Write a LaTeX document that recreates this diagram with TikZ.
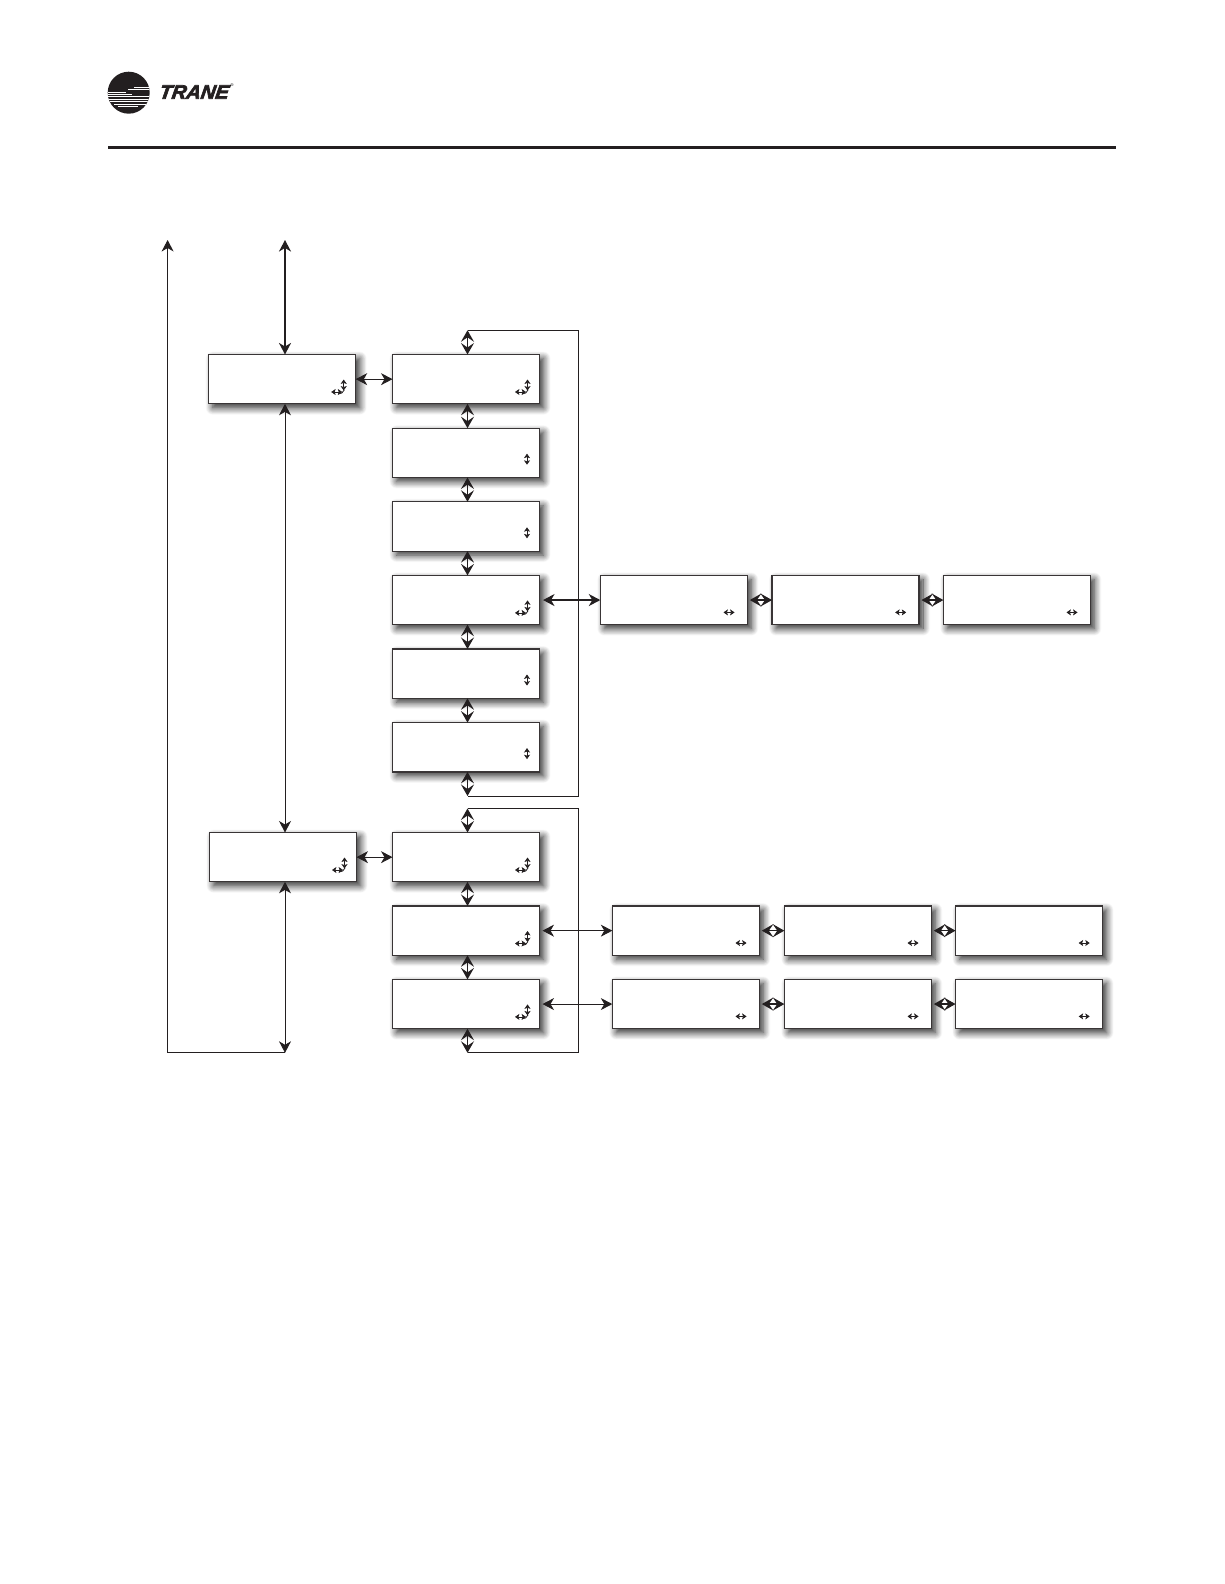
\documentclass[tikz,border=0pt]{standalone}
\usepackage{fontspec}
\setmainfont{Liberation Sans}
\newfontfamily\brandfont[BoldItalicFeatures={FakeBold=3.5,FakeStretch=1.03}]{Liberation Sans}
\usetikzlibrary{arrows.meta,shadows.blur}
\definecolor{tranedark}{HTML}{231F20}

\begin{document}
\begin{tikzpicture}[
    x=1pt, y=-1pt,
    menubox/.style={draw=tranedark!90, line width=1.2pt, fill=white, minimum width=147pt,
      minimum height=49.3pt, anchor=north west, inner sep=0pt, outer sep=0pt,
      blur shadow={shadow xshift=4pt, shadow yshift=-4pt, shadow blur steps=12,
        shadow blur radius=7pt, shadow opacity=85}},
    link/.style={{Stealth[length=11.5pt,width=12pt,inset=3.5pt]}-{Stealth[length=11.5pt,width=12pt,inset=3.5pt]},
      draw=tranedark, line width=0.9pt},
    heavylink/.style={link, line width=1.7pt},
    stacklink/.style={{Stealth[length=11.5pt,width=13pt,inset=4.5pt]}-{Stealth[length=11.5pt,width=13pt,inset=4.5pt]},
      draw=tranedark, line width=1.3pt},
    route/.style={draw=tranedark, line width=1pt},
    navtip/.style={{Stealth[length=4.4pt,width=6pt,inset=1pt]}-{Stealth[length=4.4pt,width=6pt,inset=1pt]},
      draw=tranedark, line width=0.6pt},
    navud/.pic={\draw[navtip] (0,-5.5) -- (0,5.5);},
    navlr/.pic={\draw[navtip] (-5.5,0) -- (5.5,0);},
    navboth/.pic={\draw[navtip] (0,-6) -- (0,5);
      \draw[navtip] (-12.5,6.5) -- (-1.5,6.5);
      \draw[draw=tranedark, line width=0.8pt] (-5.5,8.5) to[bend right=35] (0.5,4.5);}
  ]
    \useasboundingbox (0,0) rectangle (1224,1584);

    % header
    \fill[tranedark] (128.7,92.7) circle (21);
    \begin{scope}
      \clip (128.7,92.7) circle (21);
      \foreach \ypos/\xstart/\xend/\wd in {87/134/150/.6, 89.5/128/150/.7, 92/108/126/.6, 94/107/132/.7,
          96.5/107/150/.9, 99/107/150/.6, 101.5/110/150/.8, 104/114/146/.6, 106.5/118/138/.5}
        \draw[white, line width=\wd pt] (\xstart,\ypos) -- (\xend,\ypos);
    \end{scope}
    \node[font=\brandfont\bfseries\itshape\fontsize{19.5}{20}\selectfont, text=tranedark, inner sep=0pt,
      xslant=.15, transform shape] (brand) at (194.5,92) {TRANE};
    \node[font=\fontsize{4}{4}\selectfont, inner sep=0pt, anchor=west] (mark) at (brand.north east) {®};
    \coordinate (rulea) at (108,147.3);
    \coordinate (ruleb) at (1116,147.3);
    \draw[tranedark, line width=2.8pt] (rulea) -- (ruleb);

    % upper menu
    \node[menubox] (setupA) at (208.7,354.5) {};
    \node[menubox] (itemA) at (392.5,354.5) {};
    \node[menubox] (itemB) at (392.5,428.2) {};
    \node[menubox] (itemC) at (392.5,501.8) {};
    \node[menubox] (itemD) at (392.5,575.4) {};
    \node[menubox] (itemE) at (392.5,649) {};
    \node[menubox] (itemF) at (392.5,722.6) {};
    \node[menubox] (subA) at (600.3,575.4) {};
    \node[menubox] (subB) at (772,575.4) {};
    \node[menubox] (subC) at (943.3,575.4) {};

    % lower menu
    \node[menubox] (setupB) at (209.5,832.5) {};
    \node[menubox] (itemG) at (392.5,832.5) {};
    \node[menubox] (itemH) at (392.5,906) {};
    \node[menubox] (itemJ) at (392.5,979.4) {};
    \node[menubox] (subD) at (612.3,906) {};
    \node[menubox] (subE) at (784.3,906) {};
    \node[menubox] (subF) at (955.5,906) {};
    \node[menubox] (subG) at (612.3,979.4) {};
    \node[menubox] (subH) at (784.3,979.4) {};
    \node[menubox] (subJ) at (955.5,979.4) {};

    % free ends
    \coordinate (entry) at (285,240);
    \coordinate (exit) at (167.6,240);
    \coordinate (floor) at (285,1052.8);
    \coordinate (loopAtop) at (467.5,330.3);
    \coordinate (loopAbot) at (467.5,796);
    \coordinate (loopBtop) at (467.5,808.5);
    \coordinate (loopBbot) at (467.5,1052.8);
    \coordinate (loopAside) at (578,330.3);
    \coordinate (loopBside) at (578,808.5);

    % left column
    \draw[heavylink] (entry) -- (entry |- setupA.north);
    \draw[link] (entry |- setupA.south) -- (entry |- setupB.north);
    \draw[link] (entry |- setupB.south) -- (floor);
    \draw[route, -{Stealth[length=11.5pt,width=12pt,inset=3.5pt]}] (floor) -| (exit);
    \draw[link] (setupA.east) -- (itemA.west);
    \draw[link] (setupB.east) -- (itemG.west);

    % loops behind the stacked items
    \draw[route] (loopAtop) -- (loopAside) -- (loopAside |- loopAbot) -- (loopAbot);
    \draw[route] (loopBtop) -- (loopBside) -- (loopBside |- loopBbot) -- (loopBbot);

    % stacked items
    \draw[stacklink] (loopAtop) -- (loopAtop |- itemA.north);
    \draw[stacklink] (loopAtop |- itemA.south) -- (loopAtop |- itemB.north);
    \draw[stacklink] (loopAtop |- itemB.south) -- (loopAtop |- itemC.north);
    \draw[stacklink] (loopAtop |- itemC.south) -- (loopAtop |- itemD.north);
    \draw[stacklink] (loopAtop |- itemD.south) -- (loopAtop |- itemE.north);
    \draw[stacklink] (loopAtop |- itemE.south) -- (loopAtop |- itemF.north);
    \draw[stacklink] (loopAtop |- itemF.south) -- (loopAbot);
    \draw[stacklink] (loopBtop) -- (loopBtop |- itemG.north);
    \draw[stacklink] (loopBtop |- itemG.south) -- (loopBtop |- itemH.north);
    \draw[stacklink] (loopBtop |- itemH.south) -- (loopBtop |- itemJ.north);
    \draw[stacklink] (loopBtop |- itemJ.south) -- (loopBbot);

    % side branches
    \draw[heavylink, shorten <=3.5pt] (itemD.east) -- (subA.west);
    \draw[stacklink, shorten <=2.5pt] (subA.east) -- (subB.west);
    \draw[stacklink, shorten <=2.5pt] (subB.east) -- (subC.west);
    \draw[link, shorten <=3pt] (itemH.east) -- (subD.west);
    \draw[stacklink, shorten <=2.5pt] (subD.east) -- (subE.west);
    \draw[stacklink, shorten <=2.5pt] (subE.east) -- (subF.west);
    \draw[link, shorten <=3pt] (itemJ.east) -- (subG.west);
    \draw[stacklink, shorten <=2.5pt] (subG.east) -- (subH.west);
    \draw[stacklink, shorten <=2.5pt] (subH.east) -- (subJ.west);

    % navigation marks
    \foreach \boxname in {setupA,itemA,itemD,setupB,itemG,itemH,itemJ}
      \pic at ([shift={(135,31)}]\boxname.north west) {navboth};
    \foreach \boxname in {itemB,itemC,itemE,itemF}
      \pic at ([shift={(134.5,31)}]\boxname.north west) {navud};
    \foreach \boxname in {subA,subB,subC,subD,subE,subF,subG,subH,subJ}
      \pic at ([shift={(128.7,37)}]\boxname.north west) {navlr};
\end{tikzpicture}
\end{document}
